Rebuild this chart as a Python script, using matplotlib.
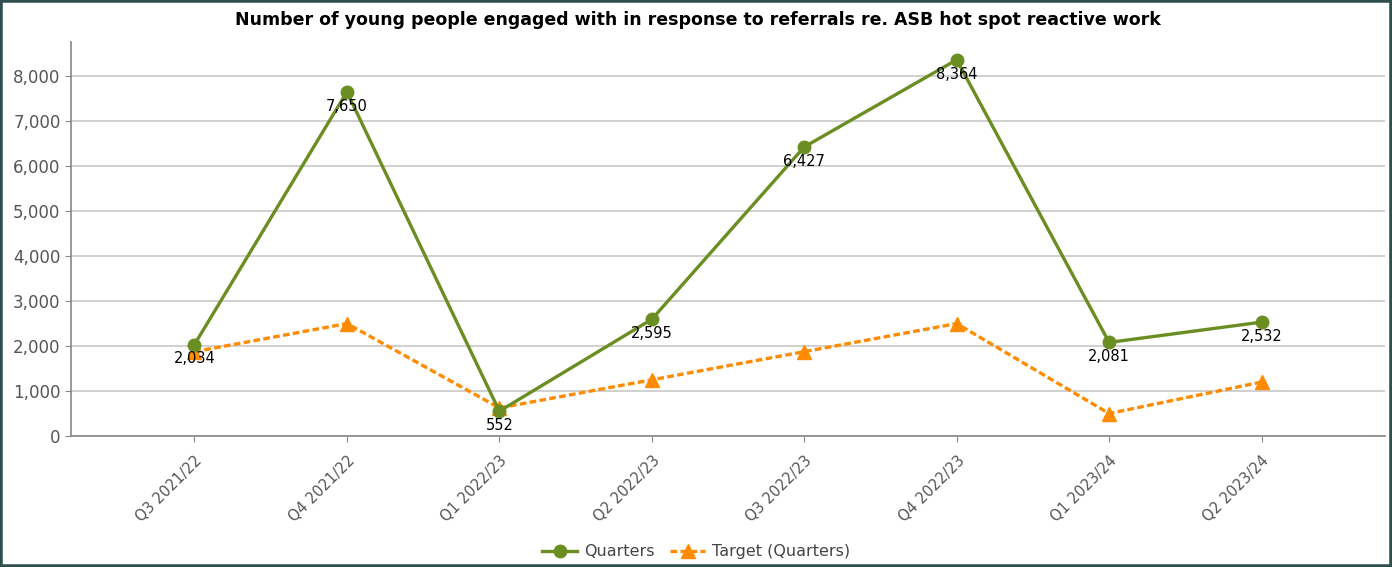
import matplotlib.pyplot as plt
from matplotlib.patches import Rectangle

quarters = ['Q3 2021/22', 'Q4 2021/22', 'Q1 2022/23', 'Q2 2022/23',
            'Q3 2022/23', 'Q4 2022/23', 'Q1 2023/24', 'Q2 2023/24']
actual = [2034, 7650, 552, 2595, 6427, 8364, 2081, 2532]
target = [1875, 2500, 625, 1250, 1875, 2500, 500, 1200]
y_ticks = [0, 1000, 2000, 3000, 4000, 5000, 6000, 7000, 8000]

green = '#6b8e23'
orange = '#ff8c00'
grey = '#555555'

fig = plt.figure(figsize=(13.92, 5.67), dpi=100)
ax = fig.add_axes([0.051, 0.231, 0.944, 0.695])

x = list(range(len(quarters)))
ax.plot(x, actual, color=green, lw=2.4, marker='o', ms=9, label='Quarters', zorder=3)
ax.plot(x, target, color=orange, lw=2.4, ls=(0, (2, 1)), marker='^', ms=10,
        label='Target (Quarters)', zorder=2)

for xi, v in zip(x, actual):
    ax.annotate(f'{v:,}', (xi, v), xytext=(0, -5), textcoords='offset points',
                ha='center', va='top', fontsize=10.5, color='black', zorder=4)

ax.set_xlim(-0.81, len(quarters) - 1 + 0.81)
ax.set_ylim(0, 8760)
ax.set_yticks(y_ticks)
ax.set_yticklabels([f'{t:,}' for t in y_ticks], fontsize=12, color=grey)
ax.set_xticks(x)
ax.set_xticklabels(quarters, rotation=45, ha='right', rotation_mode='anchor',
                   fontsize=10.5, color=grey)
ax.tick_params(axis='both', color='#888888', length=4)
ax.tick_params(axis='x', pad=8)

ax.yaxis.grid(True, color='#c8c8c8', lw=1.2)
ax.set_axisbelow(True)
for s in ['top', 'right']:
    ax.spines[s].set_visible(False)
for s in ['left', 'bottom']:
    ax.spines[s].set_color('#888888')
    ax.spines[s].set_linewidth(1.2)

fig.suptitle('Number of young people engaged with in response to referrals re. ASB hot spot reactive work',
             x=0.501, y=0.98, fontsize=12.5, fontweight='bold', va='top')

fig.legend(loc='lower center', bbox_to_anchor=(0.5, -0.012), ncol=2, frameon=False,
           fontsize=11.5, labelcolor='#444444', handlelength=2.2, columnspacing=1.0,
           handletextpad=0.4)

# dark frame around the picture
fig.patches.append(Rectangle((0, 0), 1, 1, transform=fig.transFigure, fill=False,
                             edgecolor='#2f4f4f', lw=4, zorder=10))

fig.savefig('out.png', dpi=100)
